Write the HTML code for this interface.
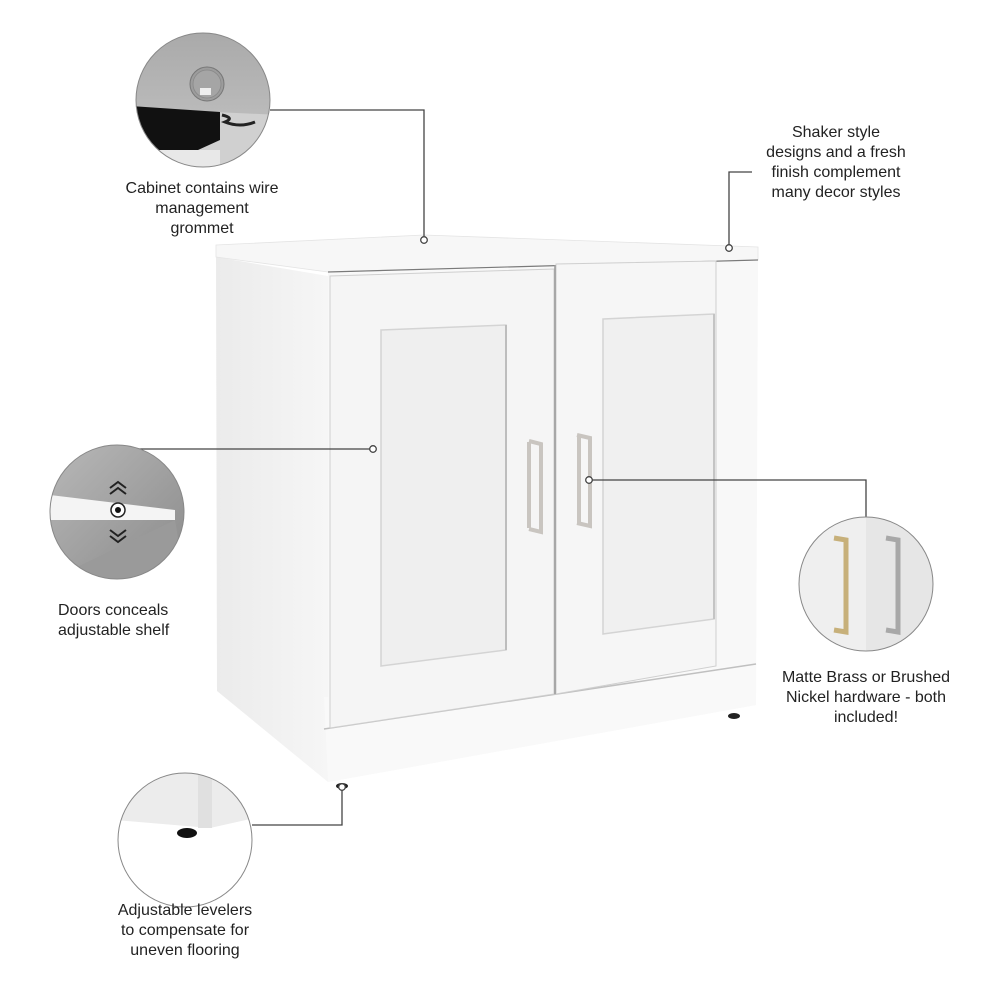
<!DOCTYPE html>
<html><head><meta charset="utf-8"><style>
html,body{margin:0;padding:0;background:#fff;}
svg{display:block}
text{font-family:"Liberation Sans",sans-serif;font-size:16px;fill:#222;}
</style></head><body>
<svg width="1000" height="1000" viewBox="0 0 1000 1000" xmlns="http://www.w3.org/2000/svg">
<defs>
<linearGradient id="g1" x1="0" y1="0" x2="0" y2="1"><stop offset="0" stop-color="#a9a9a9"/><stop offset="1" stop-color="#c8c8c8"/></linearGradient>
<linearGradient id="g2" x1="0" y1="0" x2="1" y2="1"><stop offset="0" stop-color="#b8b8b8"/><stop offset="1" stop-color="#8a8a8a"/></linearGradient>
<linearGradient id="g3" x1="0" y1="0" x2="1" y2="0"><stop offset="0" stop-color="#ebebeb"/><stop offset="1" stop-color="#f6f6f6"/></linearGradient>
<clipPath id="c1"><circle cx="203" cy="100" r="67"/></clipPath>
<clipPath id="c2"><circle cx="117" cy="512" r="67"/></clipPath>
<clipPath id="c3"><circle cx="185" cy="840" r="67"/></clipPath>
<clipPath id="c4"><circle cx="866" cy="584" r="67"/></clipPath>
</defs>

<polygon points="216,257 328,276 328,782 217,691" fill="url(#g3)"/>
<polygon points="216,245 424,235 758,247 758,260 328,272 216,257" fill="#f7f7f7" stroke="#e4e4e4" stroke-width="0.8"/>
<line x1="328" y1="272" x2="758" y2="260" stroke="#7a7a7a" stroke-width="1.2"/>
<polygon points="328,273 758,261 756,705 328,782" fill="#f8f8f8"/>
<polygon points="324,697 756,664 756,705 328,782" fill="#f9f9f9"/>
<line x1="324" y1="729" x2="756" y2="664" stroke="#c0c0c0" stroke-width="1.5"/>
<polygon points="330,276 554,269 554,694 330,728" fill="#f5f5f5" stroke="#cfcfcf" stroke-width="1"/>
<polygon points="381,330 506,325 506,650 381,666" fill="#efefef" stroke="#d4d4d4" stroke-width="1.5"/>
<line x1="506" y1="325" x2="506" y2="650" stroke="#bdbdbd" stroke-width="2"/>
<polygon points="556,264 716,261 716,666 556,694" fill="#f6f6f6" stroke="#cfcfcf" stroke-width="1"/>
<line x1="555" y1="265" x2="555" y2="694" stroke="#9a9a9a" stroke-width="1.5"/>
<polygon points="603,319 714,314 714,619 603,634" fill="#f0f0f0" stroke="#d4d4d4" stroke-width="1.5"/>
<line x1="714" y1="314" x2="714" y2="619" stroke="#c4c4c4" stroke-width="2"/>
<path d="M529,441 L541,444 L541,532 L529,529 M529,442 L529,528" fill="none" stroke="#c9c5c0" stroke-width="4"/>
<path d="M577,435 L590,438 L590,526 L577,523 M579,436 L579,524" fill="none" stroke="#c9c5c0" stroke-width="4"/>
<ellipse cx="734" cy="716" rx="6" ry="3" fill="#222"/>
<ellipse cx="342" cy="786" rx="6" ry="3" fill="#222"/>

<g stroke="#444" stroke-width="1.3" fill="none">
<polyline points="270,110 424,110 424,236"/>
<polyline points="729,245 729,172 752,172"/>
<polyline points="370,449 117,449 117,460"/>
<polyline points="592,480 866,480 866,517"/>
<polyline points="342,790 342,825 252,825"/>
</g>
<g fill="#fff" stroke="#444" stroke-width="1.3">
<circle cx="424" cy="240" r="3.3"/>
<circle cx="729" cy="248" r="3.3"/>
<circle cx="373" cy="449" r="3.3"/>
<circle cx="589" cy="480" r="3.3"/>
<circle cx="342" cy="787" r="3.3"/>
</g>

<g clip-path="url(#c1)">
<rect x="130" y="30" width="150" height="150" fill="url(#g1)"/>
<polygon points="130,108 280,115 280,180 130,180" fill="#d0d0d0"/>
<polygon points="130,106 220,112 220,140 165,165 130,160" fill="#111"/>
<rect x="150" y="150" width="70" height="30" fill="#e8e8e8"/>
<circle cx="207" cy="84" r="17" fill="#9c9c9c" stroke="#777" stroke-width="1"/>
<circle cx="207" cy="84" r="14" fill="#a5a5a5" stroke="#888" stroke-width="0.8"/>
<rect x="200" y="88" width="11" height="7" fill="#eee"/>
<path d="M222,115 Q235,118 225,122 Q240,128 255,122" stroke="#222" stroke-width="3" fill="none"/>
</g>
<circle cx="203" cy="100" r="67" fill="none" stroke="#888" stroke-width="1"/>

<g clip-path="url(#c2)">
<rect x="50" y="445" width="135" height="135" fill="url(#g2)"/>
<polygon points="50,495 175,510 175,520 50,520" fill="#f4f4f4"/>
<polygon points="50,580 175,520 185,580" fill="#9a9a9a"/>
<circle cx="118" cy="510" r="7" fill="#fff" stroke="#222" stroke-width="1.5"/>
<circle cx="118" cy="510" r="3" fill="#111"/>
<path d="M110,488 L118,482 L126,488 M110,494 L118,488 L126,494 M110,530 L118,536 L126,530 M110,536 L118,542 L126,536" stroke="#222" stroke-width="2" fill="none"/>
</g>
<circle cx="117" cy="512" r="67" fill="none" stroke="#888" stroke-width="1"/>

<g clip-path="url(#c3)">
<rect x="115" y="770" width="140" height="140" fill="#fff"/>
<polygon points="115,770 255,770 255,818 210,828 115,820" fill="#ececec"/>
<rect x="198" y="770" width="14" height="58" fill="#e0e0e0"/>
<ellipse cx="187" cy="833" rx="10" ry="5" fill="#111"/>
</g>
<circle cx="185" cy="840" r="67" fill="none" stroke="#888" stroke-width="1"/>

<g clip-path="url(#c4)">
<rect x="798" y="516" width="136" height="136" fill="#efefef"/>
<rect x="866" y="516" width="68" height="136" fill="#e6e6e6"/>
<path d="M834,538 L846,540 L846,632 L834,630" fill="none" stroke="#c7b07a" stroke-width="5"/>
<path d="M886,538 L898,540 L898,632 L886,630" fill="none" stroke="#a8a8a8" stroke-width="5"/>
</g>
<circle cx="866" cy="584" r="67" fill="none" stroke="#888" stroke-width="1"/>

<g text-anchor="middle">
<text x="202" y="193">Cabinet contains wire</text>
<text x="202" y="213">management</text>
<text x="202" y="233">grommet</text>
<text x="836" y="137">Shaker style</text>
<text x="836" y="157">designs and a fresh</text>
<text x="836" y="177">finish complement</text>
<text x="836" y="197">many decor styles</text>
<text x="866" y="682">Matte Brass or Brushed</text>
<text x="866" y="702">Nickel hardware - both</text>
<text x="866" y="722">included!</text>
<text x="185" y="915">Adjustable levelers</text>
<text x="185" y="935">to compensate for</text>
<text x="185" y="955">uneven flooring</text>
</g>
<text x="58" y="615">Doors conceals</text>
<text x="58" y="635">adjustable shelf</text>
</svg>
</body></html>
